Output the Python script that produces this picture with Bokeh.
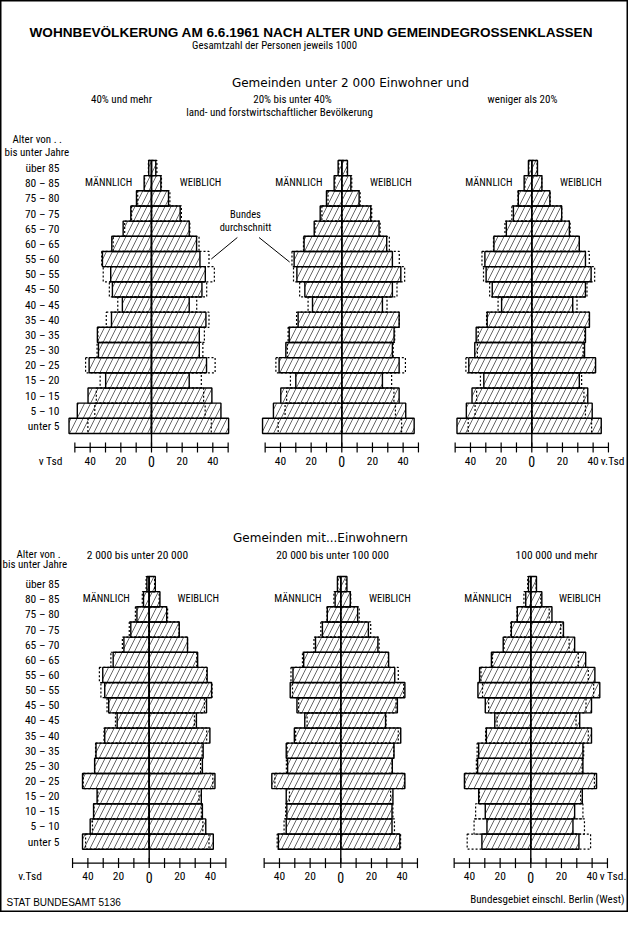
from bokeh.plotting import figure
from bokeh.models import Range1d, ColumnDataSource
from bokeh.core.properties import value
from bokeh.embed import file_html
from bokeh.resources import INLINE

# ---------------- data ----------------
age_groups = ["unter 5", "5 – 10", "10 – 15", "15 – 20", "20 – 25", "25 – 30",
              "30 – 35", "35 – 40", "40 – 45", "45 – 50", "50 – 55", "55 – 60",
              "60 – 65", "65 – 70", "70 – 75", "75 – 80", "80 – 85", "über 85"]

# Gemeinden unter 2000 Einw., 40% und mehr land- und forstw. Bevölkerung
agr40_m = [53.8, 48.4, 41.4, 29.9, 40.7, 34.6, 35.3, 26.1, 19.0, 25.5, 26.6, 32.0, 25.9, 18.5, 13.5, 9.8, 4.8, 1.8]
agr40_f = [50.3, 45.3, 39.4, 24.6, 35.9, 31.2, 31.2, 35.5, 24.6, 32.9, 35.1, 31.6, 29.4, 24.6, 18.7, 11.1, 6.1, 2.8]
# 20% bis unter 40%
agr20_m = [51.7, 44.6, 39.8, 30.0, 40.9, 36.5, 34.3, 28.5, 19.1, 24.1, 29.3, 31.1, 24.6, 18.0, 14.1, 10.0, 5.0, 2.4]
agr20_f = [47.2, 41.7, 37.4, 26.5, 37.4, 33.0, 34.1, 37.4, 26.5, 33.0, 38.5, 33.0, 29.3, 24.3, 18.9, 11.3, 5.9, 3.7]
# weniger als 20%
agr0_m = [48.8, 42.7, 39.0, 31.3, 41.1, 37.2, 36.3, 29.1, 19.7, 25.8, 29.8, 30.6, 24.7, 16.6, 12.0, 8.8, 5.0, 2.2]
agr0_f = [45.3, 39.4, 36.5, 31.0, 41.6, 34.4, 35.0, 37.6, 26.7, 35.0, 38.7, 35.0, 31.0, 24.5, 19.5, 11.8, 6.6, 3.7]
# 2 000 bis unter 20 000 Einwohner
g2k_m = [43.5, 38.5, 36.3, 34.0, 43.5, 35.6, 34.7, 29.0, 20.9, 26.4, 29.0, 30.3, 23.5, 16.5, 12.0, 8.0, 3.7, 1.5]
g2k_f = [41.8, 36.9, 34.7, 34.0, 42.9, 34.7, 35.2, 39.6, 30.8, 37.4, 40.7, 37.8, 31.6, 25.0, 19.6, 11.4, 7.0, 4.0]
# 20 000 bis unter 100 000
g20k_m = [40.7, 35.6, 35.2, 35.6, 45.0, 34.7, 35.6, 30.3, 23.5, 28.6, 33.0, 31.2, 24.2, 16.5, 12.0, 8.8, 3.7, 2.2]
g20k_f = [38.5, 33.4, 33.4, 34.0, 41.8, 33.6, 34.7, 39.1, 29.2, 36.9, 41.8, 35.2, 31.2, 24.2, 18.0, 11.0, 6.2, 4.0]
# 100 000 und mehr
g100k_m = [31.9, 28.6, 29.7, 34.0, 43.3, 34.7, 34.0, 29.0, 23.5, 29.7, 34.5, 33.4, 25.7, 18.0, 12.7, 8.8, 3.3, 1.5]
g100k_f = [31.4, 27.5, 28.6, 33.6, 42.9, 34.0, 34.0, 39.6, 31.9, 39.6, 45.0, 41.8, 35.8, 28.6, 21.3, 13.8, 7.2, 3.7]
# Bundesdurchschnitt
avg_m = [41.5, 37.0, 36.0, 33.5, 43.0, 35.5, 35.0, 29.5, 22.0, 27.5, 31.5, 32.5, 25.0, 17.5, 13.0, 9.0, 4.5, 2.0]
avg_f = [39.0, 35.0, 34.0, 32.5, 41.5, 33.5, 34.5, 37.5, 29.5, 36.0, 41.0, 37.5, 31.0, 25.0, 19.5, 12.0, 6.5, 3.5]

tick_values = [-50, -40, -30, -20, -10, 0, 10, 20, 30, 40, 50]
label_values = [-40, -20, 20, 40]
label_texts = ["40", "20", "20", "40"]

# ---------------- layout ----------------
W, H = 628, 912
S = 1.533          # px per thousand
NARROW = "'Liberation Sans Narrow', 'Roboto Condensed', 'Liberation Sans', sans-serif"
SANS = "'Liberation Sans', Arial, sans-serif"
WIDE = "'DejaVu Sans', sans-serif"

p = figure(width=W, height=H, x_range=Range1d(0, W), y_range=Range1d(H, 0),
           output_backend="svg", toolbar_location=None, min_border=0,
           x_axis_location=None, y_axis_location=None,
           outline_line_color="black", outline_line_width=2,
           background_fill_color="white", border_fill_color="white")
p.xgrid.grid_line_color = None
p.ygrid.grid_line_color = None

# rows: (fig-y of row 0 centre, px per row)
row_geo = {"top": (425.4, 15.17), "bot": (841.1, 15.15)}
for name, (y0, h) in row_geo.items():
    p.extra_y_ranges[name] = Range1d((y0 - H) / h, y0 / h)

panels = [
    (agr40_m, agr40_f, 151.0, "top"),
    (agr20_m, agr20_f, 341.3, "top"),
    (agr0_m, agr0_f, 531.3, "top"),
    (g2k_m, g2k_f, 148.7, "bot"),
    (g20k_m, g20k_f, 340.3, "bot"),
    (g100k_m, g100k_f, 530.3, "bot"),
]

AXIS_Y = -1.42
TICK = 0.33
LABEL_Y = -2.3

def txt(x, y, t, size="11px", font=NARROW, align="center", style="normal", **kw):
    p.text(x=[x], y=[y], text=[t], text_font=value(font), text_font_size=size,
           text_align=align, text_baseline="middle", text_font_style=style,
           text_color="black", **kw)

rows = list(range(len(age_groups)))
for i, (m, f, cx, rowname) in enumerate(panels):
    xr = f"x{i}"
    p.extra_x_ranges[xr] = Range1d(-cx / S, (W - cx) / S)
    kw = dict(x_range_name=xr, y_range_name=rowname)
    src = ColumnDataSource(dict(
        bottom=[r - 0.5 for r in rows], top=[r + 0.5 for r in rows],
        mleft=[-v for v in m], f=f,
        aleft=[-v for v in avg_m], af=avg_f,
        zero=[0] * len(rows)))
    hatch = dict(fill_color="white", line_color="black", line_width=1.4,
                 hatch_pattern="/", hatch_color="black", hatch_scale=12,
                 hatch_weight=0.8, hatch_alpha=0.75)
    p.quad(left="mleft", right="zero", bottom="bottom", top="top", source=src, **hatch, **kw)
    p.quad(left="zero", right="f", bottom="bottom", top="top", source=src, **hatch, **kw)
    # Bundesdurchschnitt (dotted)
    dot = dict(fill_color=None, line_color="black", line_width=1.2, line_dash="2 2")
    p.quad(left="aleft", right="zero", bottom="bottom", top="top", source=src, **dot, **kw)
    p.quad(left="zero", right="af", bottom="bottom", top="top", source=src, **dot, **kw)
    # centre line
    p.segment(x0=[0], y0=[AXIS_Y], x1=[0], y1=[rows[-1] + 0.5], line_color="black",
              line_width=1.4, **kw)
    # axis
    p.segment(x0=[tick_values[0]], y0=[AXIS_Y], x1=[tick_values[-1]], y1=[AXIS_Y],
              line_color="black", line_width=1.2, **kw)
    p.segment(x0=tick_values, y0=[AXIS_Y - TICK] * len(tick_values), x1=tick_values,
              y1=[AXIS_Y + TICK] * len(tick_values), line_color="black", line_width=1.2, **kw)
    p.text(x=label_values, y=[LABEL_Y] * len(label_values), text=label_texts,
           text_font=value(NARROW), text_font_size="11.5px", text_align="center",
           text_baseline="middle", **kw)
    txt(0, LABEL_Y - 0.05, "0", size="14px", **kw)
    # sex labels
    txt(-28, 16.05, "MÄNNLICH", size="10.5px", **kw)
    txt(32, 16.05, "WEIBLICH", size="10.5px", **kw)
    # age labels on left panels
    if i in (0, 3):
        p.text(x=[-(cx - 59) / S] * len(rows), y=rows, text=age_groups,
               text_font=value(NARROW), text_font_size="11.5px", text_align="right",
               text_baseline="middle", **kw)

# axis unit labels
txt(-58, LABEL_Y, "v Tsd", size="11.5px", align="right", x_range_name="x0", y_range_name="top")
txt(45, LABEL_Y, "v.Tsd", size="11.5px", align="left", x_range_name="x2", y_range_name="top")
txt(-70, LABEL_Y, "v.Tsd", size="11.5px", align="right", x_range_name="x3", y_range_name="bot")
txt(45, LABEL_Y, "v Tsd.", size="11.5px", align="left", x_range_name="x5", y_range_name="bot")

# Bundesdurchschnitt leader lines
p.segment(x0=[avg_f[11] + 1.5], y0=[11.0], x1=[56], y1=[12.42], line_color="black",
          line_width=1, x_range_name="x0", y_range_name="top")
p.segment(x0=[-avg_m[11] - 1.5], y0=[10.8], x1=[-54], y1=[12.42], line_color="black",
          line_width=1, x_range_name="x1", y_range_name="top")
txt(245, 214, "Bundes", size="10.5px")
txt(245, 227, "durchschnitt", size="10.5px")

# titles
txt(311, 32, "WOHNBEVÖLKERUNG AM 6.6.1961 NACH ALTER UND GEMEINDEGROSSENKLASSEN",
    size="13.6px", font=SANS, style="bold")
txt(274, 45, "Gesamtzahl der Personen jeweils 1000", size="10.8px")
txt(350, 82, "Gemeinden unter 2 000 Einwohner und", size="12px", font=WIDE)
txt(121, 99, "40% und mehr", size="11px")
txt(292, 99, "20% bis unter 40%", size="11px")
txt(522, 99, "weniger als 20%", size="11px")
txt(279, 112, "land- und forstwirtschaftlicher Bevölkerung", size="11px")
txt(12, 139, "Alter von . .", size="11px", align="left")
txt(4, 152, "bis unter   Jahre", size="11px", align="left")

txt(320, 537, "Gemeinden mit...Einwohnern", size="12px", font=WIDE)
txt(16, 554, "Alter von .", size="11px", align="left")
txt(2, 564, "bis unter   Jahre", size="11px", align="left")
txt(137, 554, "2 000 bis unter 20 000", size="11.5px")
txt(332, 554, "20 000 bis unter 100 000", size="11.5px")
txt(556, 554, "100 000 und mehr", size="11.5px")

txt(6, 902, "STAT BUNDESAMT 5136", size="10px", font=SANS, align="left")
txt(624, 899, "Bundesgebiet einschl. Berlin (West)", size="11px", align="right")

open("out.html", "w").write(file_html(p, INLINE))
